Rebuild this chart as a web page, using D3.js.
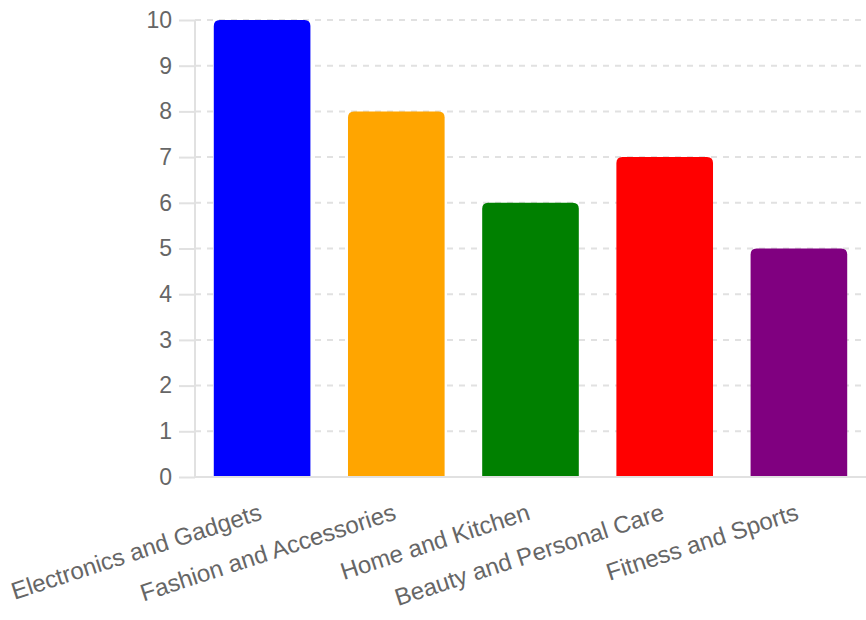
<!DOCTYPE html>
<html>
<head>
<meta charset="utf-8">
<script src="https://cdn.jsdelivr.net/npm/d3@7"></script>
<style>
  body { margin: 0; background: #fff; }
  text { font-family: "Liberation Sans", Arial, Helvetica, sans-serif; fill: #666; }
</style>
</head>
<body>
<div id="chart-area"></div>
<script>
const categories = ["Electronics and Gadgets", "Fashion and Accessories", "Home and Kitchen", "Beauty and Personal Care", "Fitness and Sports"]
const values = [10, 8, 6, 7, 5]
const barColors = ["blue", "orange", "green", "red", "purple"]
const yTicks = [0, 1, 2, 3, 4, 5, 6, 7, 8, 9, 10]

const WIDTH = 866
const HEIGHT = 620
const PLOT = {LEFT: 195, RIGHT: 866, TOP: 20, BOTTOM: 477}

const svg = d3.select("#chart-area").append("svg")
  .attr("width", WIDTH)
  .attr("height", HEIGHT)

// Scales
const x = d3.scaleBand()
  .domain(categories)
  .range([PLOT.LEFT, PLOT.RIGHT])
  .paddingInner(0)
  .paddingOuter(0)

const y = d3.scaleLinear()
  .domain([0, 10])
  .range([PLOT.BOTTOM, PLOT.TOP])

// Grid lines
svg.append("g")
  .selectAll("line")
  .data(yTicks.filter(d => d > 0))
  .enter().append("line")
    .attr("x1", PLOT.LEFT)
    .attr("x2", PLOT.RIGHT)
    .attr("y1", d => y(d))
    .attr("y2", d => y(d))
    .attr("stroke", "#e1e1e1")
    .attr("stroke-width", 2)
    .attr("stroke-dasharray", "6,6")

// Y Axis
const yAxisCall = d3.axisLeft(y)
  .tickValues(yTicks)
  .tickSize(16)
  .tickPadding(7)
const yAxis = svg.append("g")
  .attr("transform", `translate(${PLOT.LEFT}, 0)`)
  .call(yAxisCall)
yAxis.select(".domain").remove()
yAxis.selectAll("line").attr("stroke", "#e1e1e1").attr("stroke-width", 2)
yAxis.selectAll("text")
  .attr("font-size", "23px")
  .attr("fill", "#666")
  .style("font-family", "'Liberation Sans', Arial, sans-serif")

// Axis lines
svg.append("line")
  .attr("x1", PLOT.LEFT).attr("x2", PLOT.LEFT)
  .attr("y1", PLOT.TOP).attr("y2", PLOT.BOTTOM)
  .attr("stroke", "#e1e1e1").attr("stroke-width", 2)

// Bars (rounded top corners)
const barW = x.bandwidth() * 0.72
const r = 6
function barPath(d) {
  const x0 = x(d.cat) + (x.bandwidth() - barW) / 2
  const x1 = x0 + barW
  const y0 = y(d.val)
  const y1 = y(0)
  return `M${x0},${y1} L${x0},${y0 + r} Q${x0},${y0} ${x0 + r},${y0} L${x1 - r},${y0} Q${x1},${y0} ${x1},${y0 + r} L${x1},${y1} Z`
}

const barData = categories.map((c, i) => ({cat: c, val: values[i], color: barColors[i]}))

svg.append("g")
  .selectAll("path")
  .data(barData)
  .enter().append("path")
    .attr("d", barPath)
    .attr("fill", d => d.color)

svg.append("line")
  .attr("x1", PLOT.LEFT - 1).attr("x2", PLOT.RIGHT)
  .attr("y1", PLOT.BOTTOM).attr("y2", PLOT.BOTTOM)
  .attr("stroke", "#e1e1e1").attr("stroke-width", 2)

// X labels
svg.append("g")
  .selectAll("text")
  .data(categories)
  .enter().append("text")
    .attr("transform", d => `translate(${x(d) + x.bandwidth() / 2 + 1}, 519) rotate(-18)`)
    .attr("text-anchor", "end")
    .attr("font-size", "24px")
    .text(d => d)
</script>
</body>
</html>
